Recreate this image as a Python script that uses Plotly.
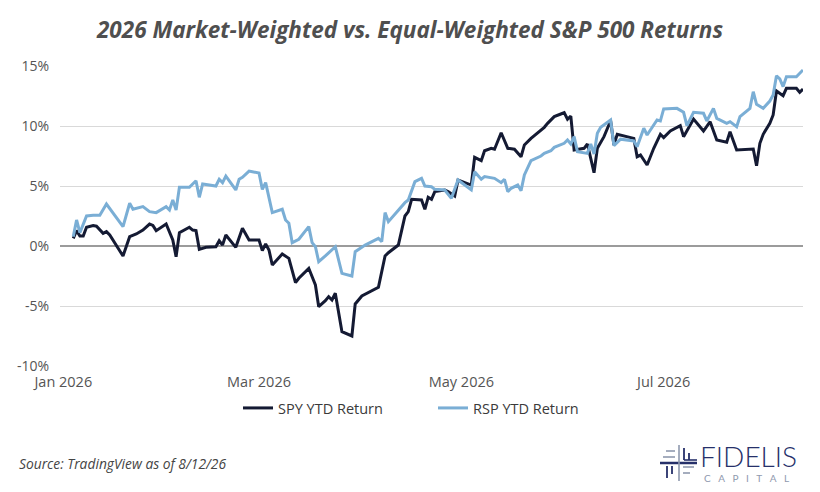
import plotly.graph_objects as go

# ---- data ----
spy_dates = [
    "2026-01-04", "2026-01-05", "2026-01-06", "2026-01-07", "2026-01-08", "2026-01-10",
    "2026-01-11", "2026-01-13", "2026-01-14", "2026-01-15", "2026-01-19", "2026-01-21",
    "2026-01-23", "2026-01-25", "2026-01-27", "2026-01-28", "2026-01-29", "2026-01-30",
    "2026-02-01", "2026-02-03", "2026-02-04", "2026-02-05", "2026-02-08", "2026-02-09",
    "2026-02-10", "2026-02-11", "2026-02-13", "2026-02-16", "2026-02-17", "2026-02-18",
    "2026-02-19", "2026-02-22", "2026-02-24", "2026-02-26", "2026-03-01", "2026-03-02",
    "2026-03-03", "2026-03-04", "2026-03-05", "2026-03-08", "2026-03-10", "2026-03-12",
    "2026-03-13", "2026-03-16", "2026-03-18", "2026-03-19", "2026-03-21", "2026-03-22",
    "2026-03-23", "2026-03-24", "2026-03-26", "2026-03-29", "2026-03-30", "2026-04-01",
    "2026-04-05", "2026-04-06", "2026-04-08", "2026-04-09", "2026-04-12", "2026-04-13",
    "2026-04-14", "2026-04-15", "2026-04-16", "2026-04-19", "2026-04-20", "2026-04-21",
    "2026-04-22", "2026-04-23", "2026-04-26", "2026-04-27", "2026-04-29", "2026-04-30",
    "2026-05-04", "2026-05-05", "2026-05-07", "2026-05-08", "2026-05-10", "2026-05-11",
    "2026-05-13", "2026-05-15", "2026-05-17", "2026-05-19", "2026-05-20", "2026-05-22",
    "2026-05-25", "2026-05-26", "2026-05-27", "2026-05-29", "2026-05-31", "2026-06-01",
    "2026-06-02", "2026-06-03", "2026-06-04", "2026-06-07", "2026-06-08", "2026-06-10",
    "2026-06-11", "2026-06-13", "2026-06-15", "2026-06-16", "2026-06-17", "2026-06-22",
    "2026-06-23", "2026-06-24", "2026-06-26", "2026-06-28", "2026-06-30", "2026-07-01",
    "2026-07-03", "2026-07-06", "2026-07-07", "2026-07-10", "2026-07-13", "2026-07-15",
    "2026-07-17", "2026-07-20", "2026-07-21", "2026-07-23", "2026-07-28", "2026-07-29",
    "2026-07-30", "2026-07-31", "2026-08-02", "2026-08-03", "2026-08-04", "2026-08-06",
    "2026-08-07", "2026-08-10", "2026-08-11", "2026-08-12",
]
spy_values = [
    0.64, 1.28, 0.83, 0.83, 1.56, 1.70, 1.65, 1.06, 1.20, 0.92, -0.83, 0.78,
    1.00, 1.33, 1.83, 1.72, 1.28, 1.47, 1.83, 0.50, -0.89, 1.11, 1.56, 1.33,
    1.28, -0.28, -0.11, -0.06, 0.44, 0.08, 0.92, -0.11, 1.47, 0.50, 0.50, -0.39,
    0.17, -0.33, -1.58, -0.67, -1.03, -3.06, -2.69, -1.86, -3.25, -5.06, -4.56, -4.22,
    -4.50, -3.94, -7.14, -7.50, -4.83, -4.17, -3.61, -3.44, -0.83, -0.56, 0.08, 1.39,
    2.50, 2.86, 3.89, 3.83, 3.06, 4.06, 3.89, 4.53, 4.67, 4.53, 4.17, 5.50,
    5.08, 7.39, 7.11, 7.94, 8.14, 8.06, 9.44, 8.14, 8.06, 7.44, 8.42, 8.97,
    9.67, 9.89, 10.22, 10.78, 11.00, 11.11, 10.56, 10.83, 8.00, 8.14, 8.50, 6.11,
    8.14, 9.11, 10.44, 8.42, 9.31, 8.97, 7.44, 7.58, 6.75, 8.14, 9.31, 9.03,
    9.58, 10.03, 9.11, 10.58, 9.58, 10.36, 8.83, 8.64, 9.53, 8.00, 8.08, 6.69,
    8.56, 9.31, 10.22, 10.92, 12.92, 12.53, 13.14, 13.14, 12.81, 13.08,
]

rsp_dates = [
    "2026-01-04", "2026-01-05", "2026-01-06", "2026-01-07", "2026-01-08", "2026-01-10",
    "2026-01-12", "2026-01-14", "2026-01-19", "2026-01-21", "2026-01-22", "2026-01-25",
    "2026-01-27", "2026-01-29", "2026-02-01", "2026-02-02", "2026-02-03", "2026-02-04",
    "2026-02-05", "2026-02-08", "2026-02-10", "2026-02-11", "2026-02-12", "2026-02-16",
    "2026-02-17", "2026-02-18", "2026-02-19", "2026-02-22", "2026-02-23", "2026-02-24",
    "2026-02-26", "2026-02-27", "2026-03-01", "2026-03-02", "2026-03-03", "2026-03-05",
    "2026-03-08", "2026-03-09", "2026-03-10", "2026-03-11", "2026-03-13", "2026-03-16",
    "2026-03-17", "2026-03-18", "2026-03-19", "2026-03-21", "2026-03-24", "2026-03-26",
    "2026-03-29", "2026-03-30", "2026-04-01", "2026-04-02", "2026-04-06", "2026-04-07",
    "2026-04-08", "2026-04-09", "2026-04-14", "2026-04-15", "2026-04-17", "2026-04-19",
    "2026-04-20", "2026-04-22", "2026-04-23", "2026-04-26", "2026-04-28", "2026-04-30",
    "2026-05-04", "2026-05-05", "2026-05-07", "2026-05-08", "2026-05-11", "2026-05-13",
    "2026-05-14", "2026-05-15", "2026-05-16", "2026-05-18", "2026-05-19", "2026-05-20",
    "2026-05-22", "2026-05-25", "2026-05-26", "2026-05-28", "2026-05-29", "2026-06-01",
    "2026-06-02", "2026-06-03", "2026-06-04", "2026-06-05", "2026-06-08", "2026-06-09",
    "2026-06-10", "2026-06-11", "2026-06-12", "2026-06-15", "2026-06-16", "2026-06-18",
    "2026-06-22", "2026-06-23", "2026-06-25", "2026-06-26", "2026-06-29", "2026-06-30",
    "2026-07-01", "2026-07-05", "2026-07-07", "2026-07-08", "2026-07-10", "2026-07-13",
    "2026-07-14", "2026-07-16", "2026-07-17", "2026-07-20", "2026-07-21", "2026-07-23",
    "2026-07-24", "2026-07-27", "2026-07-28", "2026-07-29", "2026-07-31", "2026-08-02",
    "2026-08-03", "2026-08-04", "2026-08-05", "2026-08-06", "2026-08-07", "2026-08-10",
    "2026-08-12",
]
rsp_values = [
    0.78, 2.17, 1.11, 1.83, 2.50, 2.56, 2.56, 3.50, 1.61, 3.56, 3.06, 3.28,
    2.86, 2.78, 3.28, 3.00, 3.83, 3.00, 4.89, 4.89, 5.44, 4.06, 5.17, 5.00,
    5.56, 5.28, 5.83, 4.67, 5.56, 5.72, 6.24, 6.19, 6.08, 4.72, 5.28, 2.78,
    3.06, 2.17, 1.89, 0.28, 0.56, 1.61, 0.28, -0.06, -1.31, -0.83, -0.06, -2.28,
    -2.50, -0.47, -0.11, 0.08, 0.64, 0.36, 2.78, 2.03, 3.61, 3.83, 5.36, 5.64,
    5.00, 4.94, 4.72, 4.67, 3.97, 5.50, 4.67, 6.19, 5.56, 5.78, 5.64, 5.28,
    5.56, 4.53, 4.81, 5.08, 4.61, 5.92, 7.11, 7.50, 7.72, 7.94, 8.22, 8.56,
    8.83, 8.50, 9.11, 7.86, 7.72, 8.50, 7.67, 9.39, 9.89, 10.50, 8.36, 8.90,
    8.75, 8.28, 9.81, 9.25, 10.50, 10.42, 11.42, 11.47, 11.14, 10.03, 11.14, 11.06,
    10.42, 11.47, 10.64, 10.22, 10.36, 9.94, 10.78, 11.47, 12.86, 11.81, 11.47, 12.08,
    12.58, 14.19, 13.92, 13.28, 14.11, 14.11, 14.67,
]

series_names = ["SPY YTD Return", "RSP YTD Return"]
y_tickvals = [-10, -5, 0, 5, 10, 15]
y_ticktext = ["-10%", "-5%", "0%", "5%", "10%", "15%"]
x_tickvals = ["2026-01-01", "2026-03-01", "2026-05-01", "2026-07-01"]
x_ticktext = ["Jan 2026", "Mar 2026", "May 2026", "Jul 2026"]

title_text = "2026 Market-Weighted vs. Equal-Weighted S&P 500 Returns"
source_text = "Source: TradingView as of 8/12/26"

# ---- styling ----
W, H = 820, 492
ML, MR, MT, MB = 60, 17, 66, 126
FONT = "Open Sans"
NAVY = "#141a33"
LIGHT = "#7aaed5"

fig = go.Figure()
fig.add_trace(go.Scatter(x=spy_dates, y=spy_values, mode="lines", name=series_names[0],
                         line=dict(color=NAVY, width=3)))
fig.add_trace(go.Scatter(x=rsp_dates, y=rsp_values, mode="lines", name=series_names[1],
                         line=dict(color=LIGHT, width=3)))

fig.update_layout(
    width=W, height=H,
    margin=dict(l=ML, r=MR, t=MT, b=MB, autoexpand=False),
    paper_bgcolor="white", plot_bgcolor="white",
    font=dict(family=FONT, color="#555555", size=14),
    title=dict(text=title_text, x=0.5, xanchor="center", xref="container",
               y=1 - 30 / H, yanchor="middle", yref="container",
               font=dict(family=FONT, size=22.5, color="#4f4f4f", weight="bold", style="italic")),
    showlegend=True,
    legend=dict(orientation="h", xref="container", yref="container",
                x=238 / W, xanchor="left", y=1 - 408 / H, yanchor="middle",
                font=dict(family=FONT, size=14.5, color="#3a3a3a"),
                entrywidth=150, entrywidthmode="pixels", itemwidth=30,
                bgcolor="rgba(0,0,0,0)"),
    xaxis=dict(type="date", range=["2025-12-31", "2026-08-12"],
               tickvals=x_tickvals, ticktext=x_ticktext,
               showgrid=False, zeroline=False, showline=False, ticks="",
               tickfont=dict(family=FONT, size=14.5, color="#555555"), ticklabelstandoff=5),
    yaxis=dict(range=[-10, 15], tickvals=y_tickvals, ticktext=y_ticktext,
               showgrid=True, gridcolor="#d9d9d9", gridwidth=1,
               zeroline=True, zerolinecolor="#9b9b9b", zerolinewidth=2,
               showline=False, ticks="",
               tickfont=dict(family=FONT, size=14, color="#555555"), ticklabelstandoff=10),
    hovermode=False,
)

fig.add_annotation(text=source_text, xref="paper", yref="paper",
                   x=(17 - ML) / (W - ML - MR), y=(H - MB - 463) / (H - MT - MB),
                   xanchor="left", yanchor="middle", showarrow=False,
                   font=dict(family=FONT, size=13.8, color="#444444", style="italic"))

# ---- logo (decorative) ----
PW = W - ML - MR
PH = H - MT - MB


def px(xp):
    return (xp - ML) / PW


def py(yp):
    return (H - MB - yp) / PH


LOGO_NAVY = "#26306a"
LOGO_GRAY = "#8f99ae"
logo_lines = [
    (660, 463, 697, 463, LOGO_NAVY, 2.5),
    (679, 445, 679, 481, LOGO_GRAY, 1.6),
    (666, 451, 675, 451, LOGO_GRAY, 1.6),
    (663, 457, 675, 457, LOGO_GRAY, 1.6),
    (684, 448, 684, 460, LOGO_NAVY, 1.8),
    (689, 453, 689, 460, LOGO_NAVY, 1.8),
    (684, 460, 697, 460, LOGO_NAVY, 1.6),
    (667, 466, 667, 478, LOGO_NAVY, 1.8),
    (672, 466, 672, 474, LOGO_NAVY, 1.8),
    (683, 467, 694, 467, LOGO_GRAY, 1.6),
    (683, 473, 690, 473, LOGO_GRAY, 1.6),
]
for x0, y0, x1, y1, c, w in logo_lines:
    fig.add_shape(type="line", xref="paper", yref="paper",
                  x0=px(x0), y0=py(y0), x1=px(x1), y1=py(y1),
                  line=dict(color=c, width=w))

fig.add_annotation(text="FIDELIS", xref="paper", yref="paper",
                   x=px(698), y=py(456), xanchor="left", yanchor="middle", showarrow=False,
                   font=dict(family="Lato", size=28, weight=300, color=LOGO_NAVY))
fig.add_annotation(text="C\u2003A\u2003P\u2003I\u2003T\u2003A\u2003L", xref="paper", yref="paper",
                   x=px(702), y=py(478), xanchor="left", yanchor="middle", showarrow=False,
                   font=dict(family="Lato", size=10, color=LOGO_GRAY))

fig.write_html("out.html", config={"displayModeBar": False},
               post_script="document.body.style.margin='0';document.body.style.padding='0';")
